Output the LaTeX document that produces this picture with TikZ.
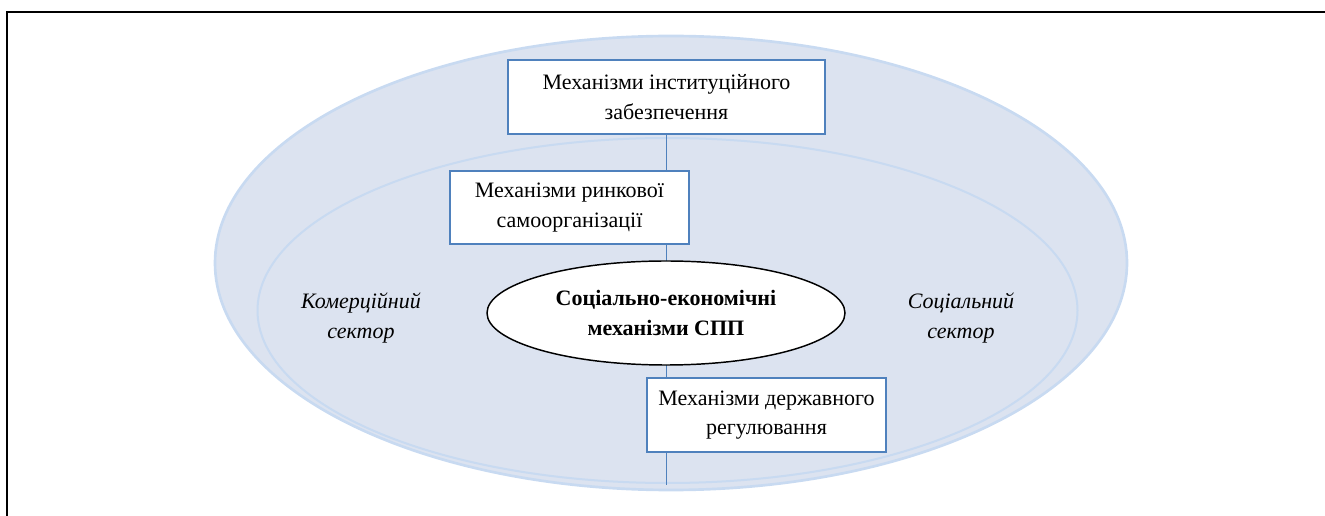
\documentclass[tikz,border=0pt]{standalone}
\usepackage{fontspec}
\setmainfont{Liberation Serif}
\usetikzlibrary{shapes.geometric}
\pgfdeclarelayer{background}
\pgfsetlayers{background,main}
\definecolor{fieldblue}{RGB}{220,227,240}
\definecolor{ringblue}{RGB}{200,218,241}
\definecolor{boxblue}{RGB}{79,129,189}
\tikzset{
    mechbox/.style={draw=boxblue, line width=1.1pt, fill=white, align=center, inner sep=0pt,
        font=\fontsize{16.5}{22}\selectfont},
    coreoval/.style={ellipse, draw=black, line width=1.1pt, fill=white, align=center, inner sep=0pt,
        minimum width=268.5pt, minimum height=78pt, font=\fontsize{16.5}{22}\selectfont\bfseries},
    sectortext/.style={align=center, font=\fontsize{16.5}{22}\selectfont\itshape},
    field/.style={fill=fieldblue, draw=ringblue},
    link/.style={draw=boxblue, line width=1.2pt}
}
\begin{document}
\begin{tikzpicture}[x=0.75pt, y=-0.75pt]
    \useasboundingbox (0,0) rectangle (1325,516);

    \node[mechbox, minimum width=237.75pt, minimum height=55.5pt] (inst) at (666.5,97) {Механізми інституційного\\забезпечення};
    \node[mechbox, minimum width=179.25pt, minimum height=54.75pt] (market) at (569.5,207.5) {Механізми ринкової\\самоорганізації};
    \node[coreoval] (core) at (666,313) {Соціально-економічні\\механізми СПП};
    \node[mechbox, minimum width=179.25pt, minimum height=55.5pt] (state) at (766.5,415) {Механізми державного\\регулювання};
    \coordinate (bottomend) at (666.5,485);

    \node[sectortext] (commerce) at (361,318) {Комерційний\\сектор};
    \node[sectortext] (social) at (961,318) {Соціальний\\сектор};

    \begin{pgfonlayer}{background}
        \draw[field, line width=2pt] (671,263) ellipse [x radius=456, y radius=227];
        \draw[field, line width=1.5pt] (667.5,310.5) ellipse [x radius=410, y radius=172.5];
        \draw[link] (inst.south) -- (bottomend);
    \end{pgfonlayer}

    \draw[black, line width=2pt] (7,516) -- (7,12) -- (1325,12);
\end{tikzpicture}
\end{document}
